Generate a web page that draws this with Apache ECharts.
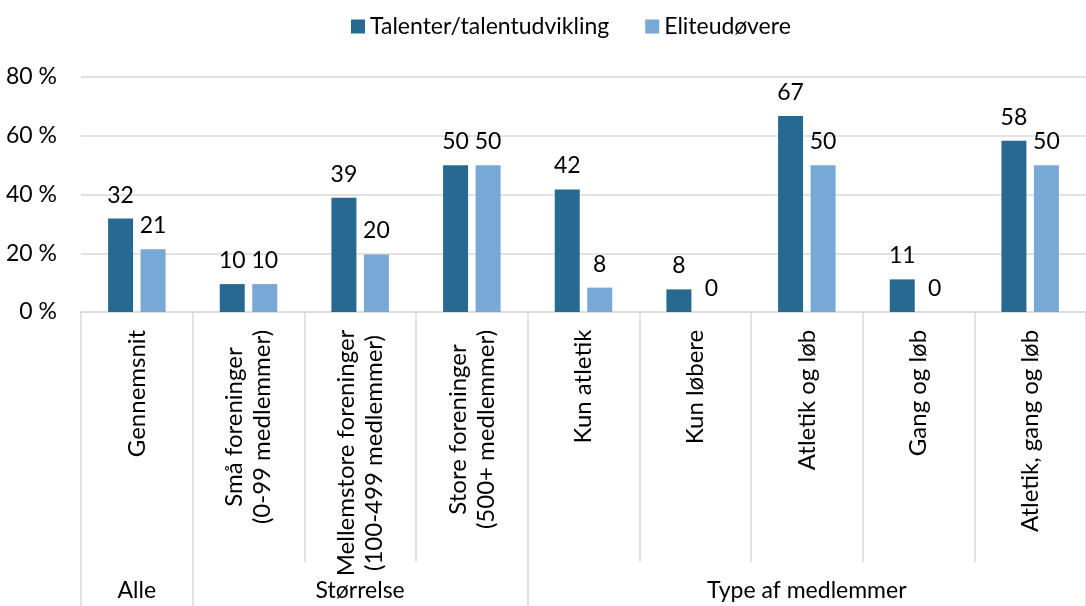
<!DOCTYPE html>
<html>
<head>
<meta charset="utf-8">
<script src="https://cdn.jsdelivr.net/npm/echarts@6/dist/echarts.min.js"></script>
<style>
html,body{margin:0;padding:0;background:#fff;}
#chart{width:1086px;height:606px;}
</style>
</head>
<body>
<div id="chart"></div>
<script>
const categories = ['Gennemsnit','Små foreninger\n(0-99 medlemmer)','Mellemstore foreninger\n(100-499 medlemmer)','Store foreninger\n(500+ medlemmer)','Kun atletik','Kun løbere','Atletik og løb','Gang og løb','Atletik, gang og løb'];
const groupLabels = ['Alle','','Størrelse','','','','Type af medlemmer','',''];
const groupStarts = [0,1,4];
const seriesNames = ['Talenter/talentudvikling','Eliteudøvere'];
const talent = [31.8,9.5,38.9,50,41.7,7.7,66.7,11.1,58.3];
const elite = [21.4,9.5,19.6,50,8.3,0,50,0,50];
const yMin = 0, yMax = 80, yStep = 20;

const FONT = 'Lato';
const FS = 23;
const FSR = 24;
const ctx = document.createElement('canvas').getContext('2d');
ctx.font = FSR + 'px ' + FONT;
const rich = {};
categories.forEach((c, i) => {
  const w = Math.max(...c.split('\n').map(l => ctx.measureText(l).width));
  rich['c' + i] = {width: Math.ceil(w) + 1, align: 'center', fontFamily: FONT, fontSize: FSR, lineHeight: 28, color: '#000'};
});

const chart = echarts.init(document.getElementById('chart'));
const grid = '#d9d9d9';
chart.setOption({
  animation: false,
  textStyle: {fontFamily: FONT},
  legend: {
    top: 10, left: 346, itemWidth: 14, itemHeight: 14, itemGap: 36,
    icon: 'rect',
    textStyle: {fontFamily: FONT, fontSize: FS, color: '#000'},
    data: seriesNames
  },
  grid: {left: 81, right: -12, top: 77, bottom: 294, containLabel: false},
  xAxis: [{
    type: 'category', data: categories, position: 'bottom', offset: 0,
    boundaryGap: true,
    axisLine: {lineStyle: {color: grid, width: 1.5}},
    axisTick: {show: true, interval: 0, length: 250, lineStyle: {color: grid, width: 1.5}},
    axisLabel: {
      interval: 0, rotate: 90, margin: 17,
      formatter: (v, i) => v.split('\n').map(l => '{c' + i + '|' + l + '}').join('\n'),
      rich: rich
    }
  }, {
    type: 'category', data: groupLabels, position: 'bottom', offset: 0,
    boundaryGap: true,
    axisLine: {show: false},
    axisTick: {show: true, interval: (i) => groupStarts.includes(i), length: 294, lineStyle: {color: grid, width: 1.5}},
    axisLabel: {interval: 0, margin: 267, fontFamily: FONT, fontSize: FS, color: '#000'}
  }],
  yAxis: {
    type: 'value', min: yMin, max: yMax, interval: yStep,
    axisLine: {show: false}, axisTick: {show: false},
    splitLine: {lineStyle: {color: grid, width: 1.5}},
    axisLabel: {formatter: '{value} %', margin: 24, fontFamily: FONT, fontSize: FS, color: '#000'}
  },
  series: [{
    name: seriesNames[0], type: 'bar', xAxisIndex: 0, data: talent,
    barWidth: 25, barGap: '30%',
    itemStyle: {color: '#276991'},
    label: {show: true, position: 'top', distance: 12, fontFamily: FONT, fontSize: FS, color: '#000',
      formatter: p => Math.round(p.value)}
  }, {
    name: seriesNames[1], type: 'bar', xAxisIndex: 0, data: elite,
    barWidth: 25, barGap: '30%',
    itemStyle: {color: '#78a8d6'},
    label: {show: true, position: 'top', distance: 12, fontFamily: FONT, fontSize: FS, color: '#000',
      formatter: p => Math.round(p.value)}
  }]
});
</script>
</body>
</html>
